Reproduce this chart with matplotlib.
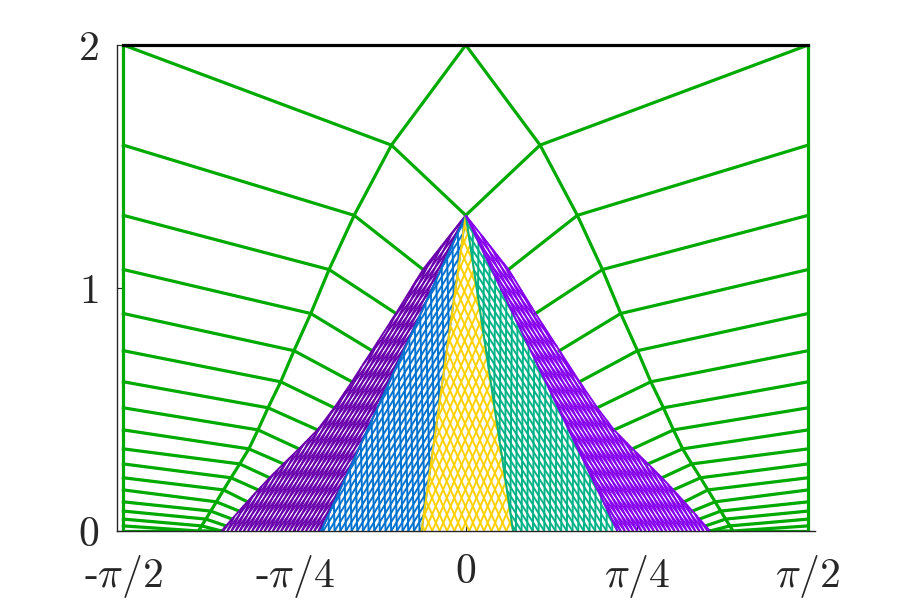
import numpy as np
import matplotlib
matplotlib.use("Agg")
import matplotlib.pyplot as plt
from matplotlib.collections import LineCollection

# heights of the nodes on the outer (left) edge, top to bottom
levels = [2.0, 1.588, 1.299, 1.076, 0.895, 0.742, 0.614, 0.507, 0.416, 0.338,
          0.276, 0.219, 0.169, 0.120, 0.082, 0.049, 0.021, 0.0]
# x of the middle ring at each level (left half, mirrored for the right)
mid_x = [0.0, -0.341, -0.512, -0.627, -0.711, -0.788, -0.849, -0.907, -0.953,
         -0.995, -1.037, -1.077, -1.111, -1.144, -1.170, -1.192, -1.212, -1.226]
# x of the inner boundary, from the apex (levels[2]) down to the base
inner_x = [0.0, -0.196, -0.320, -0.430, -0.522, -0.603, -0.680, -0.765,
           -0.836, -0.900, -0.952, -1.002, -1.040, -1.072, -1.100, -1.12]
apex_y = levels[2]

# coloured sub-regions: x where each band meets the base y=0
band_edges = [-1.12, -0.664, -0.203, 0.217, 0.696, 1.115]
band_colors = ['#6a00ad', '#0072cf', '#ffd100', '#00b386', '#8600ee']
band_gap = [0.019, 0.026, 0.034, 0.026, 0.019]     # line spacing in x
band_skew = [0.14, 0.36, 0.50, 0.36, 0.14]         # half angle of the cross lines

xtick_vals = [-np.pi/2, -np.pi/4, 0, np.pi/4, np.pi/2]
xtick_labels = [r'-$\pi/2$', r'-$\pi/4$', r'$0$', r'$\pi/4$', r'$\pi/2$']
ytick_vals = [0, 1, 2]

plt.rcParams['mathtext.fontset'] = 'cm'
plt.rcParams['font.family'] = ['cmr10', 'DejaVu Sans']
plt.rcParams['axes.unicode_minus'] = False

fig = plt.figure(figsize=(9, 6), dpi=100)
ax = fig.add_axes([0.13, 0.115, 0.775, 0.81])

green = '#00aa00'
lev = np.array(levels)
mx = np.array(mid_x)
ix = np.array(inner_x)
n = len(levels)

# green mesh between the outer box and the inner boundary
for sgn in (-1, 1):
    ax.plot([sgn*np.pi/2, sgn*np.pi/2], [0, 2], color=green, lw=2.3, zorder=2)
    ax.plot(-sgn*mx, lev, color=green, lw=2.3, zorder=2)
    for k in range(n):
        km = min(k + 1, n - 1)
        ki = min(k + 2, n - 1)
        xs = [sgn*np.pi/2, -sgn*mx[km], -sgn*ix[ki - 2]]
        ys = [lev[k], lev[km], lev[ki]]
        ax.plot(xs, ys, color=green, lw=2.3, zorder=2)

# inner boundary as a function of y (curved outer edges of the coloured part)
yb = lev[2:][::-1]
xb = ix[::-1]


def edge_fn(i):
    if i == 0:
        return lambda y: np.interp(y, yb, xb)
    if i == len(band_edges) - 1:
        return lambda y: -np.interp(y, yb, xb)
    x0 = band_edges[i]
    return lambda y: x0 * (1 - y / apex_y)


yy = np.linspace(0, apex_y, 1200)
for b in range(5):
    L = edge_fn(b)
    R = edge_fn(b + 1)
    Lv, Rv = L(yy), R(yy)
    xc = 0.5 * (band_edges[b] + band_edges[b + 1])
    d = -xc / apex_y
    w = band_gap[b]
    segs = []
    for sk in (band_skew[b], -band_skew[b]):
        slope = d + sk
        for x0 in np.arange(-2.5, 2.5, w):
            x = x0 + slope * yy
            idx = np.flatnonzero((x >= Lv) & (x <= Rv))
            if len(idx) < 2:
                continue
            cuts = np.flatnonzero(np.diff(idx) > 1) + 1
            for run in np.split(idx, cuts):
                if len(run) > 1:
                    segs.append(np.column_stack([x[run], yy[run]]))
    segs.append(np.column_stack([Lv, yy]))
    segs.append(np.column_stack([Rv, yy]))
    ax.add_collection(LineCollection(segs, colors=band_colors[b], linewidths=1.4,
                                     zorder=3))

ax.plot([-np.pi/2, np.pi/2], [2, 2], color='black', lw=2.3, zorder=4,
        clip_on=False)

ax.set_xlim(-1.6, 1.6)
ax.set_ylim(0, 2)
for side in ('top', 'right'):
    ax.spines[side].set_visible(False)
for side in ('left', 'bottom'):
    ax.spines[side].set_color('#262626')
    ax.spines[side].set_linewidth(1.0)
    ax.spines[side].set_zorder(5)
ax.set_xticks(xtick_vals)
ax.set_xticklabels(xtick_labels)
ax.set_yticks(ytick_vals)
ax.set_yticklabels([r'$%d$' % v for v in ytick_vals])
ax.tick_params(direction='in', length=4, width=0.8, colors='#262626',
               labelsize=30, labelcolor='#262626')
ax.tick_params(axis='x', pad=16)
ax.tick_params(axis='y', pad=13)

fig.savefig('out.png', dpi=100)
